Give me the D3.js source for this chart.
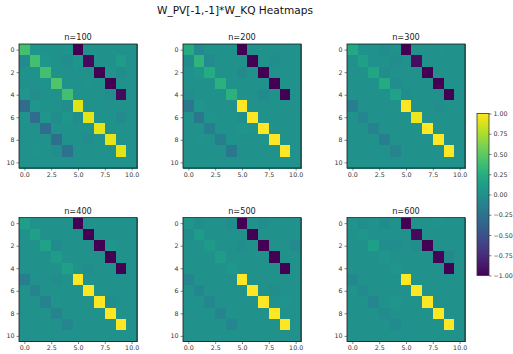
<!DOCTYPE html>
<html>
<head>
<meta charset="utf-8">
<script src="https://cdn.jsdelivr.net/npm/d3@7"></script>
<style>
  body { margin: 0; background: #fff; }
  svg { display: block; font-family: "DejaVu Sans", sans-serif; }
</style>
</head>
<body>
<div id="chart"></div>
<script>
// panel titles and tick labels
const panelTitles = ["n=100", "n=200", "n=300", "n=400", "n=500", "n=600"];
const xTicks = [0, 2.5, 5, 7.5, 10];
const yTicks = [0, 2, 4, 6, 8, 10];
const cbarTicks = [-1, -0.75, -0.5, -0.25, 0, 0.25, 0.5, 0.75, 1];
const zeros = [0, 0, 0, 0, 0, 0, 0, 0, 0, 0, 0];

// heatmap values, one 11x11 matrix per panel (rows = y, cols = x)
const n100 = [
  [0.40, 0.05, 0.02, 0.00, 0.03, -1.00, 0.00, 0.00, 0.03, 0.00, 0.00],
  [-0.05, 0.40, 0.05, 0.02, -0.03, 0.05, -0.95, 0.00, 0.00, 0.10, 0.00],
  [0.02, 0.02, 0.40, 0.00, 0.00, 0.02, 0.00, -1.00, 0.03, -0.02, 0.00],
  [0.00, 0.00, 0.02, 0.45, 0.02, 0.00, 0.03, 0.02, -1.00, 0.02, 0.00],
  [0.04, -0.02, 0.00, 0.02, 0.40, 0.00, 0.00, 0.00, -0.02, -0.95, 0.00],
  [-0.30, 0.05, 0.02, 0.00, -0.03, 0.90, 0.00, 0.02, 0.00, 0.02, 0.00],
  [0.03, -0.30, 0.04, -0.03, 0.05, -0.02, 0.92, 0.02, 0.02, -0.05, 0.00],
  [0.00, 0.00, -0.30, 0.00, 0.02, 0.00, 0.02, 0.92, 0.00, 0.02, 0.00],
  [0.00, 0.02, 0.00, -0.28, 0.02, 0.00, -0.03, 0.00, 0.92, 0.00, 0.00],
  [0.00, 0.03, 0.00, -0.03, -0.25, 0.02, 0.00, 0.02, 0.00, 0.90, 0.00],
  zeros
];
const n200 = [
  [0.22, -0.06, 0.00, 0.00, 0.02, -1.00, 0.00, 0.00, 0.00, 0.00, 0.00],
  [-0.04, 0.30, -0.04, 0.00, 0.00, 0.02, -1.00, 0.00, -0.03, 0.00, 0.00],
  [0.02, 0.04, 0.22, 0.00, 0.00, -0.05, 0.00, -1.00, 0.02, 0.00, 0.00],
  [0.00, 0.00, 0.00, 0.28, 0.02, 0.00, 0.02, 0.00, -1.00, 0.02, 0.00],
  [-0.03, 0.00, 0.02, 0.02, 0.28, 0.00, 0.00, -0.04, 0.00, -1.00, 0.00],
  [-0.20, 0.04, 0.00, 0.00, 0.00, 1.00, 0.00, 0.00, 0.02, 0.00, 0.00],
  [0.00, -0.20, 0.03, 0.00, 0.02, -0.03, 1.00, 0.00, 0.00, 0.00, 0.00],
  [0.00, 0.00, -0.15, 0.02, 0.00, 0.05, 0.03, 1.00, 0.00, 0.00, 0.00],
  [0.00, 0.03, 0.00, -0.15, 0.02, 0.00, 0.00, 0.03, 1.00, 0.00, 0.00],
  [0.00, 0.00, 0.00, 0.00, -0.20, 0.00, 0.00, 0.00, 0.00, 1.00, 0.00],
  zeros
];
const n300 = [
  [0.20, 0.00, 0.00, -0.02, 0.00, -1.00, 0.00, 0.00, 0.03, 0.00, 0.00],
  [0.00, 0.12, 0.00, 0.00, -0.02, 0.00, -0.93, 0.00, 0.00, 0.00, 0.00],
  [0.00, 0.00, 0.18, -0.03, 0.00, 0.00, 0.00, -1.00, 0.00, 0.00, 0.00],
  [0.00, 0.00, 0.02, 0.22, -0.02, 0.00, 0.00, 0.00, -1.00, 0.00, 0.00],
  [0.00, 0.00, 0.00, 0.02, 0.15, -0.02, 0.00, 0.00, 0.00, -1.00, 0.00],
  [-0.15, 0.00, 0.00, 0.00, 0.00, 1.00, 0.00, 0.00, -0.03, 0.00, 0.00],
  [0.00, -0.08, 0.00, 0.00, 0.00, 0.00, 0.95, 0.00, 0.00, 0.00, 0.00],
  [0.00, 0.00, -0.12, 0.00, 0.00, 0.00, 0.00, 1.00, 0.00, 0.00, 0.00],
  [0.00, 0.00, 0.00, -0.15, 0.00, 0.00, 0.00, 0.00, 1.00, 0.00, 0.00],
  [0.00, 0.00, 0.00, 0.00, -0.10, 0.00, 0.00, 0.00, 0.00, 1.00, 0.00],
  zeros
];
const n400 = [
  [0.12, 0.00, 0.00, 0.00, 0.00, -1.00, 0.00, 0.00, 0.02, 0.00, 0.00],
  [0.00, 0.12, 0.00, 0.00, 0.00, 0.00, -1.00, 0.00, 0.00, 0.00, 0.00],
  [0.00, 0.02, 0.15, -0.04, 0.00, 0.00, 0.00, -1.00, 0.05, 0.00, 0.00],
  [0.00, 0.00, 0.00, 0.10, 0.00, 0.00, 0.00, 0.00, -1.00, 0.00, 0.00],
  [0.00, 0.00, 0.00, 0.00, 0.12, 0.00, -0.03, 0.00, 0.00, -1.00, 0.00],
  [-0.15, 0.00, 0.00, -0.03, 0.00, 1.00, 0.00, 0.00, 0.00, 0.00, 0.00],
  [0.00, -0.10, 0.00, 0.00, 0.00, 0.00, 1.00, 0.00, 0.00, 0.00, 0.00],
  [0.00, 0.00, -0.12, 0.03, 0.00, 0.00, 0.00, 1.00, -0.02, 0.00, 0.00],
  [0.00, 0.00, 0.00, -0.10, 0.00, 0.00, 0.00, 0.00, 1.00, 0.00, 0.00],
  [0.00, 0.00, 0.00, 0.00, -0.08, 0.00, 0.00, 0.00, 0.00, 1.00, 0.00],
  zeros
];
const n500 = [
  [0.05, -0.03, 0.00, 0.00, -0.02, -1.00, 0.00, -0.03, 0.00, 0.00, 0.00],
  [-0.03, 0.10, 0.00, 0.00, 0.00, 0.00, -1.00, 0.00, 0.00, 0.00, 0.00],
  [0.00, 0.00, 0.08, 0.00, 0.00, -0.02, 0.00, -1.00, 0.00, 0.00, -0.05],
  [0.00, 0.00, 0.00, 0.10, 0.00, 0.00, 0.00, 0.00, -1.00, 0.00, 0.00],
  [0.00, 0.00, 0.00, 0.00, 0.07, 0.00, 0.00, 0.00, 0.00, -1.00, 0.00],
  [-0.08, 0.02, 0.00, 0.00, 0.00, 1.00, 0.00, 0.00, 0.00, 0.00, 0.00],
  [0.00, -0.08, 0.00, 0.00, 0.00, 0.00, 1.00, 0.00, -0.02, 0.00, 0.00],
  [0.00, 0.00, -0.08, 0.00, 0.00, 0.00, 0.00, 1.00, 0.00, 0.03, 0.00],
  [0.00, 0.00, 0.00, -0.10, 0.00, 0.00, 0.00, 0.00, 1.00, 0.00, 0.00],
  [0.00, 0.00, 0.00, 0.00, -0.08, 0.00, 0.00, 0.00, 0.00, 1.00, 0.00],
  zeros
];
const n600 = [
  [0.03, -0.02, 0.00, -0.04, 0.00, -1.00, 0.00, 0.00, 0.03, 0.00, 0.00],
  [0.00, 0.04, 0.00, 0.00, 0.00, 0.00, -0.95, 0.00, 0.00, 0.00, 0.00],
  [0.00, 0.00, 0.12, -0.03, -0.03, 0.00, -0.03, -1.00, 0.00, 0.00, 0.00],
  [0.00, 0.00, 0.00, 0.04, 0.00, 0.00, 0.00, 0.00, -0.98, -0.06, 0.00],
  [0.00, 0.00, 0.00, 0.00, 0.04, 0.00, 0.00, 0.00, 0.00, -1.00, 0.00],
  [-0.06, 0.00, 0.00, 0.02, 0.00, 1.00, 0.00, 0.00, 0.00, 0.00, 0.00],
  [0.00, -0.05, 0.00, 0.00, 0.00, 0.00, 1.00, 0.00, 0.00, 0.00, 0.00],
  [0.00, 0.00, -0.08, 0.00, 0.04, 0.00, 0.00, 1.00, 0.00, 0.00, 0.00],
  [0.00, 0.00, 0.00, -0.05, 0.00, 0.00, 0.00, 0.00, 1.00, 0.00, 0.00],
  [0.00, 0.00, 0.00, 0.00, -0.04, 0.00, 0.00, 0.00, 0.00, 1.00, 0.00],
  zeros
];
const matrices = [n100, n200, n300, n400, n500, n600];

const W = 513, H = 354;
const colLeft = [19, 183, 347];
const rowTop = [44, 217.5];
const pw = 118, ph = 124;
const textColor = "#333";

const svg = d3.select("#chart").append("svg")
  .attr("width", W)
  .attr("height", H);

const color = d3.scaleSequential(d3.interpolateViridis).domain([-1, 1]);

svg.append("text")
  .attr("x", 235)
  .attr("y", 14)
  .attr("text-anchor", "middle")
  .style("font-size", "10.6px")
  .attr("fill", "#111")
  .text("W_PV[-1,-1]*W_KQ Heatmaps");

matrices.forEach((m, k) => {
  const g = svg.append("g")
    .attr("transform", "translate(" + colLeft[k % 3] + "," + rowTop[Math.floor(k / 3)] + ")");

  const x = d3.scaleLinear().domain([-0.5, 10.5]).range([0, pw]);
  const y = d3.scaleLinear().domain([-0.5, 10.5]).range([0, ph]);

  const cells = [];
  m.forEach((row, r) => row.forEach((v, c) => cells.push({ r, c, v })));

  g.selectAll("rect.cell")
    .data(cells)
    .enter()
    .append("rect")
    .attr("class", "cell")
    .attr("x", d => x(d.c - 0.5))
    .attr("y", d => y(d.r - 0.5))
    .attr("width", x(1) - x(0) + 0.6)
    .attr("height", y(1) - y(0) + 0.6)
    .attr("shape-rendering", "crispEdges")
    .attr("fill", d => color(d.v));

  // frame
  g.append("rect")
    .attr("width", pw)
    .attr("height", ph)
    .attr("fill", "none")
    .attr("stroke", "#1a1a1a")
    .attr("stroke-width", 0.8);

  // x axis
  const xa = g.append("g")
    .attr("transform", "translate(0," + ph + ")")
    .call(d3.axisBottom(x).tickValues(xTicks).tickFormat(d3.format(".1f")).tickSize(2.5).tickPadding(2));
  // y axis
  const ya = g.append("g")
    .call(d3.axisLeft(y).tickValues(yTicks).tickFormat(d3.format("d")).tickSize(2.5).tickPadding(2));

  [xa, ya].forEach(a => {
    a.select(".domain").remove();
    a.selectAll("line").attr("stroke", "#333").attr("stroke-width", 0.6);
    a.selectAll("text")
      .style("font-size", "6.3px")
      .style("font-family", "DejaVu Sans, sans-serif")
      .attr("fill", textColor);
  });

  g.append("text")
    .attr("x", pw / 2)
    .attr("y", -4)
    .attr("text-anchor", "middle")
    .style("font-size", "8.2px")
    .attr("fill", "#222")
    .text(panelTitles[k]);
});

// colorbar
const cbX = 477, cbW = 12, cbTop = 113.5, cbBot = 275.5;
const cy = d3.scaleLinear().domain([-1, 1]).range([cbBot, cbTop]);

const grad = svg.append("defs").append("linearGradient")
  .attr("id", "cbgrad")
  .attr("x1", 0).attr("y1", 1).attr("x2", 0).attr("y2", 0);
d3.range(0, 1.0001, 0.05).forEach(t => {
  grad.append("stop")
    .attr("offset", t)
    .attr("stop-color", d3.interpolateViridis(t));
});

svg.append("rect")
  .attr("x", cbX)
  .attr("y", cy(1))
  .attr("width", cbW)
  .attr("height", cy(-1) - cy(1))
  .attr("fill", "url(#cbgrad)")
  .attr("stroke", "#333")
  .attr("stroke-width", 0.8);

const ca = svg.append("g")
  .attr("transform", "translate(" + (cbX + cbW) + ",0)")
  .call(d3.axisRight(cy).tickValues(cbarTicks)
    .tickFormat(d => (d < 0 ? "\u2212" : "") + d3.format(".2f")(Math.abs(d)))
    .tickSize(2.5).tickPadding(2));
ca.select(".domain").remove();
ca.selectAll("line").attr("stroke", "#333").attr("stroke-width", 0.6);
ca.selectAll("text")
  .style("font-size", "6.3px")
  .style("font-family", "DejaVu Sans, sans-serif")
  .attr("fill", textColor);
</script>
</body>
</html>
